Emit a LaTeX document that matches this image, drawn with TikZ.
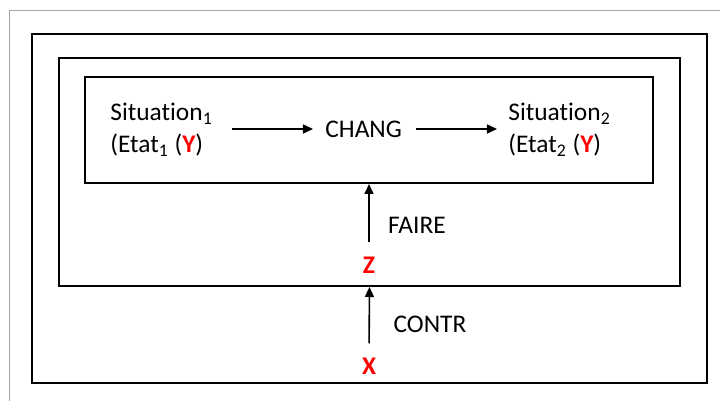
\documentclass[tikz,border=0pt]{standalone}
\usepackage{fontspec}
\setmainfont{Carlito}[Ligatures=NoCommon]
\usetikzlibrary{positioning, arrows.meta}

\tikzset{box/.style={draw, line width=1pt, inner sep=0pt},
    lbl/.style={inner sep=0pt, align=left, font=\fontsize{12.7}{16}\selectfont},
    var/.style={inner sep=0pt, text=red, font=\fontsize{12.7}{16}\selectfont\bfseries},
    arr/.style={-{Triangle[length=5pt, width=4.5pt]}, line width=0.8pt}}

\begin{document}
\begin{tikzpicture}[x=0.5pt, y=-0.5pt]
\useasboundingbox (0,0) rectangle (720,401);
\draw [gray!70, line width=0.5pt](720,11) -- (9.5,11) -- (9.5,401);
\node[box, minimum width=337.5pt, minimum height=174.5pt] (outer) at (369.5,208.5) {};
\node[box, minimum width=310.5pt, minimum height=114pt] (middle) at (369.5,172) {};
\node[box, minimum width=284pt, minimum height=53pt] (inner) at (369,130) {};
\node[lbl, anchor=west] (sit1) at (110,130) {Situation\textsubscript{1}\\(Etat\textsubscript{1} ({\color{red}\bfseries Y})};
\node[lbl, anchor=west] (chang) at (325,129) {CHANG};
\node[lbl, anchor=west] (sit2) at (508,130) {Situation\textsubscript{2}\\(Etat\textsubscript{2} ({\color{red}\bfseries Y})};
\node[var] (z) at (369,265.5) {Z};
\node[var] (x) at (369,366) {X};
\node[lbl] (faire) at (417,225) {FAIRE};
\node[lbl] (contr) at (430,324) {CONTR};
\draw [arr, shorten <=9.5pt, shorten >=6pt](sit1.east |- chang) -- (chang.west);
\draw [arr, shorten <=7pt, shorten >=5.5pt](chang.east) -- (sit2.west |- chang);
\draw [arr, shorten <=7.5pt](z.north) -- (inner.south);
\draw [arr, shorten <=7pt](x.north) -- (middle.south);

\end{tikzpicture}
\end{document}
